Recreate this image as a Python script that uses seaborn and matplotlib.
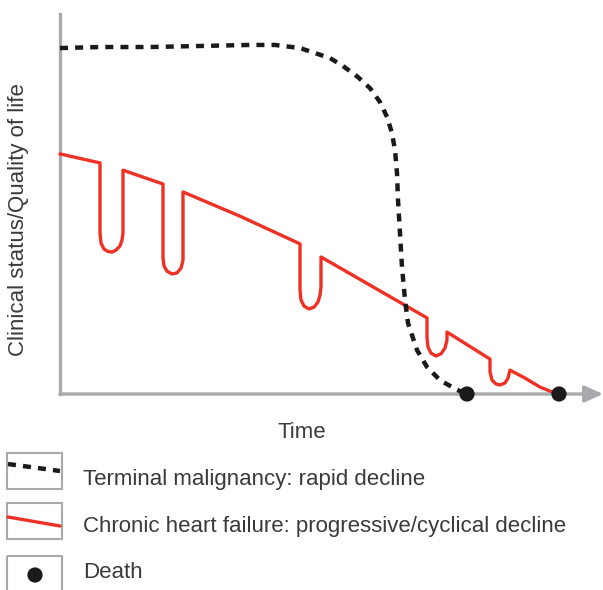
import matplotlib
matplotlib.use('Agg')
import matplotlib.pyplot as plt
from matplotlib.patches import Rectangle
import seaborn as sns
import pandas as pd

# Terminal malignancy: rapid decline (time, clinical status)
malignancy_time = [0, 8, 18, 28, 38, 43, 48, 54, 56.6, 59.6, 62, 64, 65.4, 66.4, 67,
                   67.4, 67.6, 68, 68.4, 69, 69.6, 71.4, 73.4, 76, 79.4, 81.4]
malignancy_status = [100, 100.3, 100.3, 100.6, 100.9, 100.9, 100, 97.1, 94.8, 91.6, 88.4,
                     84.4, 80.1, 75.4, 70.5, 63.9, 56.1, 46.5, 36.7, 27.2, 20.5, 12.7,
                     7.8, 4.0, 1.2, 0]

# Chronic heart failure: progressive/cyclical decline
heart_time = [0, 8, 8, 8.2, 8.8, 9.6, 10.4, 11.2, 12, 12.4, 12.6, 12.6,
              20.6, 20.6, 20.8, 21.4, 22.4, 23.4, 24.2, 24.6, 24.6,
              36, 48, 48, 48.2, 48.8, 49.8, 50.8, 51.6, 52, 52.2, 52.2,
              73.4, 73.4, 73.6, 74.2, 75.2, 76.2, 77, 77.4, 77.4,
              86, 86, 86.4, 87.2, 88, 89, 89.6, 90, 93, 96, 98.4, 99.8]
heart_status = [69.4, 66.8, 46.5, 43.6, 41.9, 41.2, 41.0, 41.6, 42.8, 44.5, 46.5, 64.7,
                60.7, 39.3, 37.0, 35.5, 34.7, 35.0, 36.4, 38.7, 58.4,
                51.4, 43.4, 30.1, 27.2, 25.4, 24.6, 25.1, 26.6, 28.6, 30.9, 39.6,
                22.0, 16.2, 13.6, 11.8, 11.0, 11.6, 13.3, 15.6, 17.9,
                10.1, 6.4, 4.0, 2.9, 2.6, 3.2, 4.6, 6.9, 4.6, 2.0, 0.6, 0]

death_time = [81.4, 99.8]
death_status = [0, 0]

legend_labels = ['Terminal malignancy: rapid decline',
                 'Chronic heart failure: progressive/cyclical decline',
                 'Death']

RED = '#EE3124'
GREY = '#A7A9AC'
TEXT = '#3a3a3a'
DASHES = (1.8, 1.6)

sns.set_style('white')
plt.rcParams['font.family'] = ['Liberation Sans', 'DejaVu Sans']

fig = plt.figure(figsize=(6.03, 5.90), dpi=100)
ax = fig.add_axes([60 / 603, 196 / 590, 543 / 603, 384 / 590])

mal = pd.DataFrame({'time': malignancy_time, 'status': malignancy_status})
chf = pd.DataFrame({'time': heart_time, 'status': heart_status})

sns.lineplot(data=chf, x='time', y='status', sort=False, estimator=None,
             color=RED, linewidth=2.4, ax=ax, clip_on=False, zorder=3)
line = sns.lineplot(data=mal, x='time', y='status', sort=False, estimator=None,
                    color='#1a1a1a', linewidth=3.2, ax=ax, clip_on=False, zorder=4)
ax.lines[-1].set_dashes(DASHES)
ax.lines[-1].set_dash_capstyle('butt')
sns.scatterplot(x=death_time, y=death_status, color='#1a1a1a', s=120,
                edgecolor='none', ax=ax, zorder=6, clip_on=False)

ax.set_xlim(0, 108.6)
ax.set_ylim(0, 111)
ax.set_xticks([])
ax.set_yticks([])
ax.set_xlabel('')
ax.set_ylabel('')
for side in ['top', 'right', 'bottom']:
    ax.spines[side].set_visible(False)
ax.spines['left'].set_color(GREY)
ax.spines['left'].set_linewidth(2.4)
ax.spines['left'].set_bounds(0, 109.8)
ax.patch.set_alpha(0)
ax.annotate('', xy=(108.6, 0), xytext=(0, 0),
            arrowprops=dict(arrowstyle='-|>,head_length=1.1,head_width=0.5',
                            mutation_scale=10, color=GREY, lw=2.4,
                            shrinkA=0, shrinkB=0),
            annotation_clip=False, zorder=2)

# overlay in pixel space for labels and the boxed legend
ov = fig.add_axes([0, 0, 1, 1], zorder=-1)
ov.set_xlim(0, 603)
ov.set_ylim(590, 0)
ov.axis('off')

ov.text(302, 438, 'Time', fontsize=16, color=TEXT, ha='center', va='baseline')
ov.text(19, 220, 'Clinical status/Quality of life', fontsize=16, color=TEXT,
        rotation=90, ha='center', va='center')

for top, height in [(453, 36), (503, 36), (556, 40)]:
    ov.add_patch(Rectangle((7, top), 55, height, fill=False, edgecolor=GREY,
                           linewidth=1.5, clip_on=False))

ov.plot([8, 60], [464, 471], color='#1a1a1a', linewidth=3.2, dashes=DASHES,
        dash_capstyle='butt')
ov.plot([8, 60], [517, 526], color=RED, linewidth=2.4)
ov.scatter([35], [575], color='#1a1a1a', s=120, edgecolor='none')

for label, baseline in zip(legend_labels, [485, 532, 578]):
    ov.text(83, baseline, label, fontsize=16, color=TEXT, ha='left', va='baseline')

fig.savefig('out.png', dpi=100)
